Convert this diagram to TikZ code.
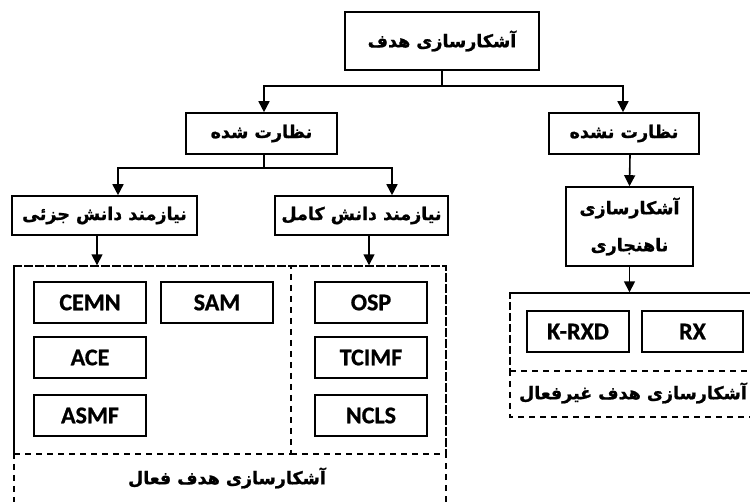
\documentclass[tikz,border=0pt]{standalone}
\usepackage{fontspec}
\setmainfont{Carlito}[BoldFeatures={FakeBold=0.8}]
\newfontfamily\farsi[Script=Arabic, BoldFeatures={FakeBold=1.2}]{DejaVu Sans}
\TeXXeTstate=1
\usetikzlibrary{arrows.meta}
\newcommand\fatext[1]{{\farsi\bfseries\beginR #1\endR}}
\tikzset{
  x=1pt, y=-1pt,
  box/.style={draw, line width=1.6pt, rectangle, inner sep=0pt, align=center},
  labbox/.style={box, font=\fontsize{24}{26}\selectfont\bfseries},
  fabox/.style={box, font=\fontsize{17.5}{37}\selectfont},
  falabel/.style={font=\fontsize{17.5}{20}\selectfont},
  dashbox/.style={draw, line width=1.4pt, dash pattern=on 6pt off 5pt, inner sep=0pt},
  arr/.style={line width=1.6pt, -{Triangle[length=11pt,width=11pt]}},
  conn/.style={line width=1.6pt},
}
\begin{document}
\begin{tikzpicture}
\useasboundingbox (0,0) rectangle (750,502);
\clip (0,0) rectangle (750,502);

% hierarchy boxes
\node[fabox, minimum width=194pt, minimum height=58pt] (top) at (442,41) {\fatext{آشکارسازی هدف}};
\node[fabox, minimum width=151pt, minimum height=41pt] (sup) at (261.5,133.5) {\fatext{نظارت شده}};
\node[fabox, minimum width=150pt, minimum height=41pt] (unsup) at (624,133.5) {\fatext{نظارت نشده}};
\node[fabox, minimum width=185pt, minimum height=39pt] (partial) at (104.5,215.5) {\fatext{نیازمند دانش جزئی}};
\node[fabox, minimum width=173pt, minimum height=39pt] (full) at (361.5,215.5) {\fatext{نیازمند دانش کامل}};
\node[fabox, minimum width=127pt, minimum height=79pt] (anom) at (629.5,226.5) {\fatext{آشکارسازی}\\\fatext{ناهنجاری}};

% active-target groups
\draw[dashbox] (14,266) rectangle (446,520);
\node[dashbox, minimum width=277pt, minimum height=188pt] (grpL) at (152.5,360) {};
\node[dashbox, minimum width=155pt, minimum height=188pt] (grpR) at (368.5,360) {};
\node[falabel] (actlab) at (227,478) {\fatext{آشکارسازی هدف فعال}};

\node[labbox, minimum width=112pt, minimum height=41pt] (cemn) at (90,302.5) {CEMN};
\node[labbox, minimum width=112pt, minimum height=41pt] (sam) at (217,302.5) {SAM};
\node[labbox, minimum width=112pt, minimum height=41pt] (ace) at (90,357.5) {ACE};
\node[labbox, minimum width=112pt, minimum height=41pt] (asmf) at (90,415.5) {ASMF};
\node[labbox, minimum width=112pt, minimum height=41pt] (osp) at (371,302.5) {OSP};
\node[labbox, minimum width=112pt, minimum height=41pt] (tcimf) at (371,357.5) {TCIMF};
\node[labbox, minimum width=112pt, minimum height=41pt] (ncls) at (371,415.5) {NCLS};

% passive-target group
\draw[dashbox] (510,293) rectangle (780,417);
\node[dashbox, minimum width=270pt, minimum height=78pt] (grpP) at (645,332) {};
\node[falabel] (paslab) at (633,393) {\fatext{آشکارسازی هدف غیرفعال}};
\node[labbox, minimum width=102pt, minimum height=41pt] (krxd) at (578,331.5) {K-RXD};
\node[labbox, minimum width=101pt, minimum height=41pt] (rx) at (692.5,331.5) {RX};

% connectors
\coordinate (j0) at (442,86);
\draw[conn] (top.south) -- (j0);
\draw[arr] (j0) -| ([xshift=2.5pt]sup.north);
\draw[arr] (j0) -| ([xshift=-1pt]unsup.north);
\coordinate (j1) at (264,168);
\draw[conn] ([xshift=2.5pt]sup.south) -- (j1);
\draw[arr] (j1) -| ([xshift=13.5pt]partial.north);
\draw[arr] (j1) -| ([xshift=30.5pt]full.north);
\draw[arr] ([xshift=6pt]unsup.south) -- (anom.north);
\draw[arr] ([xshift=-7.5pt]partial.south) -- ([xshift=-7.5pt]partial.south |- grpL.north);
\draw[arr] ([xshift=7.5pt]full.south) -- ([xshift=7.5pt]full.south |- grpR.north);
\draw[arr] (anom.south) -- (anom.south |- grpP.north);
\end{tikzpicture}
\end{document}
